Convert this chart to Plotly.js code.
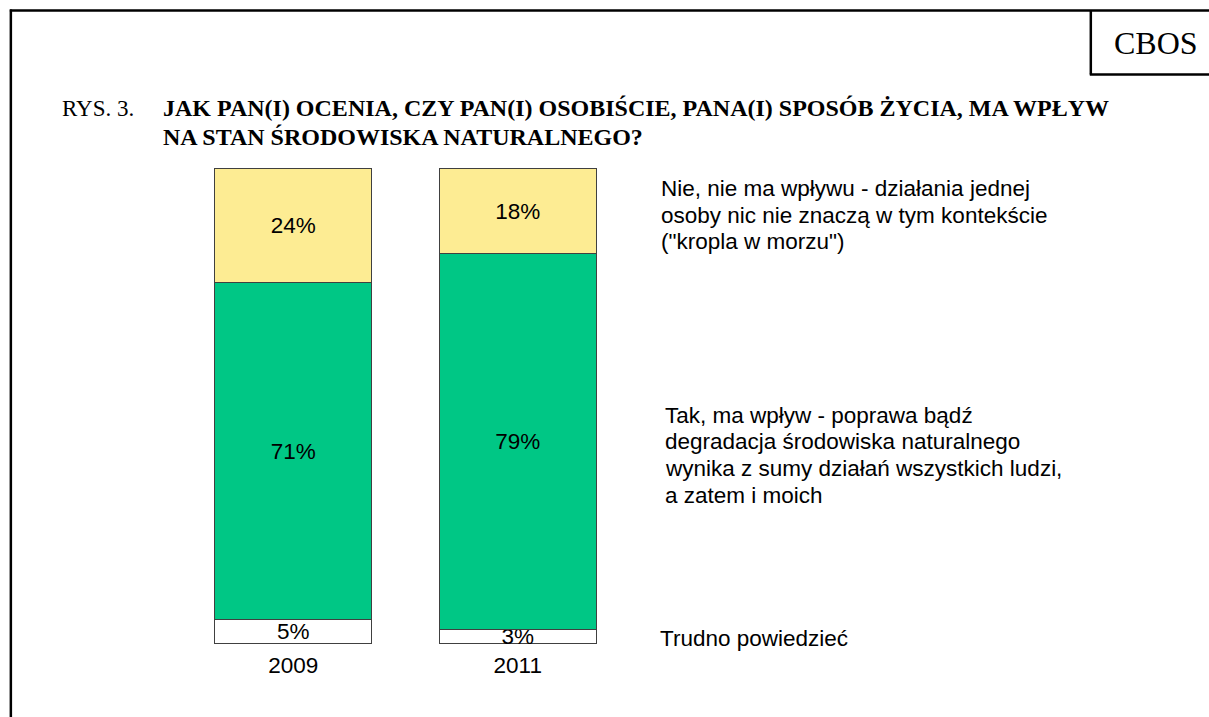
<!DOCTYPE html>
<html>
<head>
<meta charset="utf-8">
<script src="https://cdn.plot.ly/plotly-3.0.1.min.js"></script>
<style>
  html, body { margin: 0; padding: 0; background: #ffffff; }
  #chart { width: 1209px; height: 717px; }
</style>
</head>
<body>
<div id="chart"></div>
<script>
// ---- data ----
const years = ['2009', '2011'];
const trudno = [5, 3];      // Trudno powiedzieć
const tak = [71, 79];       // Tak, ma wpływ
const nie = [24, 18];       // Nie, nie ma wpływu

const seriesNames = ['Trudno powiedzieć', 'Tak, ma wpływ', 'Nie, nie ma wpływu'];
const nieLines = ['Nie, nie ma wpływu - działania jednej', 'osoby nic nie znaczą w tym kontekście', '("kropla w morzu")'];
const takLines = ['Tak, ma wpływ - poprawa bądź', 'degradacja środowiska naturalnego', 'wynika z sumy działań wszystkich ludzi,', 'a zatem i moich'];
const trudnoLines = ['Trudno powiedzieć'];
const titlePrefix = 'RYS. 3.';
const titleLines = ['JAK PAN(I) OCENIA, CZY PAN(I) OSOBIŚCIE, PANA(I) SPOSÓB ŻYCIA, MA WPŁYW', 'NA STAN ŚRODOWISKA NATURALNEGO?'];
const brand = 'CBOS';

// ---- geometry ----
const W = 1209, H = 717;
const pad = 2.4; // pixels of headroom so bar outlines are not clipped
const M = {l: 181, r: 579.4, t: 168.7 - pad, b: 73.7 - pad};
const PW = W - M.l - M.r, PH = H - M.t - M.b;
const px = x => (x - M.l) / PW;
const py = y => (H - M.b - y) / PH;

const sans = 'Liberation Sans, Arial, sans-serif';
const serif = 'Liberation Serif, Times New Roman, serif';
const pct = arr => arr.map(v => v + '%');

function barTrace(name, vals, color) {
  return {
    type: 'bar', name: name, x: years, y: vals,
    text: pct(vals), textposition: 'inside', insidetextanchor: 'middle',
    constraintext: 'none', cliponaxis: false,
    textfont: {family: sans, size: 22.5, color: '#000000'},
    marker: {color: color, line: {color: '#404040', width: 1}},
    width: 0.7, hoverinfo: 'skip'
  };
}

const data = [
  barTrace(seriesNames[0], trudno, '#ffffff'),
  barTrace(seriesNames[1], tak, '#00c785'),
  barTrace(seriesNames[2], nie, '#fdec93')
];

const annotations = [];
function addLines(lines, x, yCenters, font) {
  lines.forEach((t, i) => annotations.push({
    xref: 'paper', yref: 'paper', x: px(x), y: py(yCenters[i]),
    xanchor: 'left', yanchor: 'middle', showarrow: false,
    text: t, font: font
  }));
}
const rfont = {family: sans, size: 22.5, color: '#000000'};
addLines(nieLines, 659, [189, 215.5, 242], rfont);
addLines(takLines, 663, [415, 441.5, 468, 495.5], rfont);
addLines(trudnoLines, 658, [638], rfont);

annotations.push({
  xref: 'paper', yref: 'paper', x: px(60), y: py(108.5), xanchor: 'left', yanchor: 'middle',
  showarrow: false, text: titlePrefix, font: {family: serif, size: 23, color: '#000000'}
});
addLines(titleLines.map(t => '<b>' + t + '</b>'), 161, [108.5, 137], {family: serif, size: 24, color: '#000000'});
annotations.push({
  xref: 'paper', yref: 'paper', x: px(1155), y: py(43), xanchor: 'center', yanchor: 'middle',
  showarrow: false, text: brand, font: {family: serif, size: 32, color: '#000000'}
});

const lineStyle = {color: '#000000', width: 2.5};
const shapes = [
  {type: 'line', xref: 'paper', yref: 'paper', x0: px(11), x1: px(11), y0: py(10), y1: py(730), line: lineStyle},
  {type: 'line', xref: 'paper', yref: 'paper', x0: px(10), x1: px(1220), y0: py(11), y1: py(11), line: lineStyle},
  {type: 'line', xref: 'paper', yref: 'paper', x0: px(1090), x1: px(1090), y0: py(11), y1: py(75), line: lineStyle},
  {type: 'line', xref: 'paper', yref: 'paper', x0: px(1089), x1: px(1220), y0: py(75), y1: py(75), line: lineStyle}
];

const yPad = pad / 4.746; // data units equivalent of pad
const layout = {
  width: W, height: H,
  margin: M,
  paper_bgcolor: '#ffffff', plot_bgcolor: '#ffffff',
  barmode: 'stack', showlegend: false,
  xaxis: {
    type: 'category', range: [-0.5, 1.5], showgrid: false, zeroline: false, showline: false,
    ticks: '', ticklabelstandoff: 3, tickfont: {family: sans, size: 22.5, color: '#000000'}, fixedrange: true
  },
  yaxis: {
    range: [-yPad, 100 + yPad], visible: false, showgrid: false, zeroline: false, fixedrange: true
  },
  annotations: annotations,
  shapes: shapes,
  hovermode: false
};

Plotly.newPlot('chart', data, layout, {displayModeBar: false, staticPlot: true});
</script>
</body>
</html>
